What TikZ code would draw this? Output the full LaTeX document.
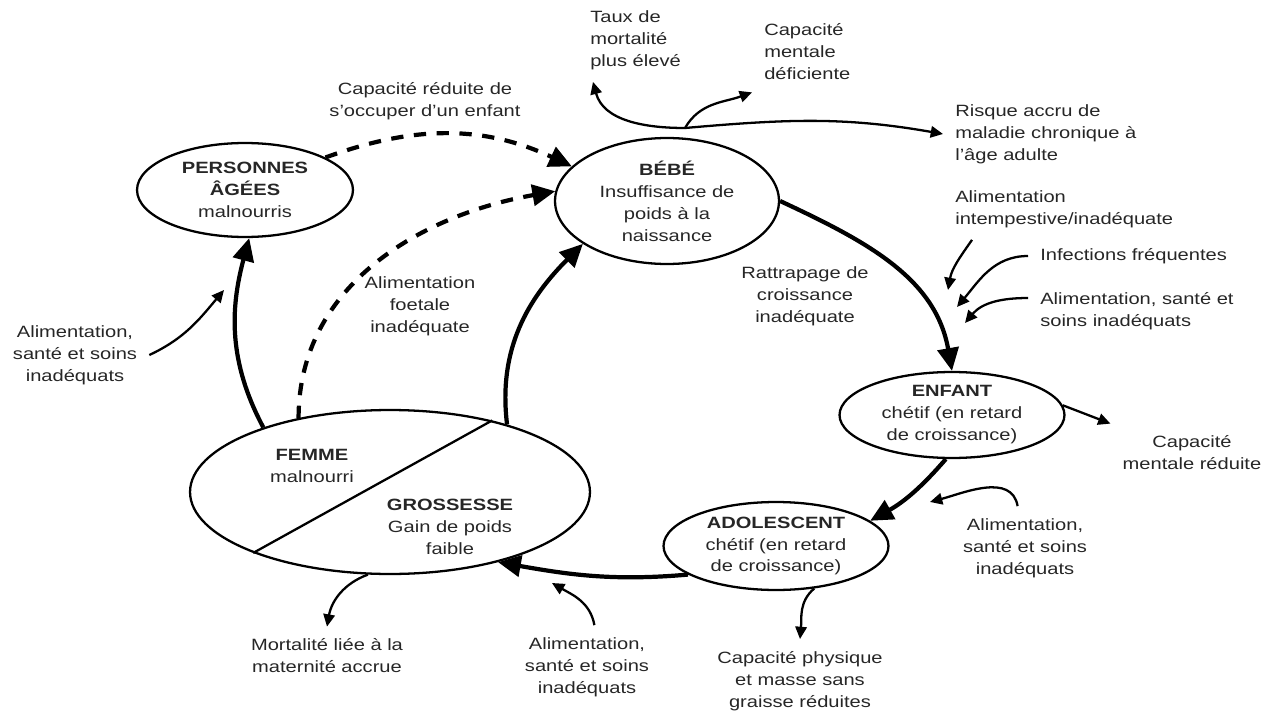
\documentclass[tikz,border=0pt]{standalone}
\usepackage{fontspec}
\setmainfont{Liberation Sans}[FakeStretch=1.23]
\usetikzlibrary{arrows.meta,shapes.geometric}

\begin{document}
\begin{tikzpicture}[x=0.02cm, y=0.02cm,
  every node/.style={font=\fontsize{9.3}{12.5}\selectfont, text=black!85},
  oval/.style={draw, ellipse, line width=1.3pt, inner sep=0pt, align=center},
  lbl/.style={align=center, inner sep=2pt, outer sep=5pt},
  lbll/.style={align=left, anchor=west, inner sep=2pt, outer sep=5pt},
  bigarrow/.style={line width=2.4pt, -{Triangle[length=13pt,width=12pt]}},
  dasharrow/.style={bigarrow, dash pattern=on 7pt off 6pt},
  smallarrow/.style={line width=1.3pt, -{Triangle[length=7pt,width=6.5pt]}}]
  \useasboundingbox (0,0) rectangle (1271,-713);

  \node[oval, minimum width=4.32cm, minimum height=1.88cm] (agees) at (245,-190) {\textbf{PERSONNES}\\\textbf{ÂGÉES}\\malnourris};
  \node[oval, minimum width=4.48cm, minimum height=2.52cm] (bebe) at (667,-201) {\textbf{BÉBÉ}\\Insuffisance de\\poids à la\\naissance};
  \node[oval, minimum width=4.5cm, minimum height=1.72cm] (enfant) at (952,-415) {\textbf{ENFANT}\\chétif (en retard\\de croissance)};
  \node[oval, minimum width=4.5cm, minimum height=1.76cm] (adol) at (776,-546) {\textbf{ADOLESCENT}\\chétif (en retard\\de croissance)};
  \node[oval, minimum width=8cm, minimum height=3.28cm] (femme) at (390,-492) {};
  \draw[line width=1.3pt] (femme.204) -- (femme.35);
  \node[align=center, inner sep=0pt] (femmetxt) at (312,-466) {\textbf{FEMME}\\malnourri};
  \node[align=center, inner sep=0pt] (grosstxt) at (450,-527) {\textbf{GROSSESSE}\\Gain de poids\\faible};

  \node[lbll] (taux) at (578,-40) {Taux de\\mortalité\\plus élevé};
  \node[lbll] (deficiente) at (752,-52) {Capacité\\mentale\\déficiente};
  \node[lbll] (risque) at (943,-134) {Risque accru de\\maladie chronique à\\l'âge adulte};
  \node[lbl] (capred) at (425,-101) {Capacité réduite de\\s'occuper d'un enfant};
  \node[lbll] (intemp) at (943,-209) {Alimentation\\intempestive/inadéquate};
  \node[lbll] (infect) at (1028,-256) {Infections fréquentes};
  \node[lbll] (alimdroite) at (1028,-311) {Alimentation, santé et\\soins inadéquats};
  \node[lbl] (rattrapage) at (805,-296) {Rattrapage de\\croissance\\inadéquate};
  \node[lbl] (mentalred) at (1192,-453) {Capacité\\mentale réduite};
  \node[lbl] (alimado) at (1025,-548) {Alimentation,\\santé et soins\\inadéquats};
  \node[lbl] (physique) at (800,-681) {Capacité physique\\et masse sans\\graisse réduites};
  \node[lbl] (alimbas) at (587,-667) {Alimentation,\\santé et soins\\inadéquats};
  \node[lbl] (mortalite) at (327,-656) {Mortalité liée à la\\maternité accrue};
  \node[lbl] (foetale) at (420,-306) {Alimentation\\foetale\\inadéquate};
  \node[lbl] (alimgauche) at (75,-355) {Alimentation,\\santé et soins\\inadéquats};

  \coordinate (fork) at (685,-128);
  \coordinate (in1) at (948,-290);
  \coordinate (in2) at (957,-307);
  \coordinate (in3) at (965,-323);
  \coordinate (inado) at (930,-502);
  \coordinate (inbas) at (552,-583);
  \coordinate (ingauche) at (224,-290);

  \draw[bigarrow] (bebe.0) to[out=-25, in=100] (enfant.north);
  \draw[bigarrow] (enfant.262) to[bend left=10] (adol.15);
  \draw[bigarrow] (adol.198) to[out=185, in=-10] (femme.-33);
  \draw[bigarrow] (femme.30) to[out=97, in=225] (bebe.207);
  \draw[bigarrow] (femme.153) to[out=118, in=-105] (agees.275);
  \draw[dasharrow] (femme.141) to[out=90, in=190] (bebe.175);
  \draw[dasharrow] (agees.22) to[out=20, in=155] (bebe.160);

  \draw[smallarrow] (fork) to[out=180, in=-75] ([xshift=0.3cm]taux.south west);
  \draw[smallarrow] (fork) to[out=60, in=200] (deficiente.south west);
  \draw[smallarrow] (fork) to[out=5, in=170] (risque.west);
  \draw[smallarrow] (enfant.5) -- (mentalred.north west);
  \draw[smallarrow] (adol.-48) to[out=220, in=85] (physique.north);
  \draw[smallarrow] (femme.255) to[out=200, in=80] (mortalite.north);
  \draw[smallarrow] (alimgauche.east) to[out=25, in=230] (ingauche);
  \draw[smallarrow] (alimbas.80) to[out=100, in=-30] (inbas);
  \draw[smallarrow] (alimado.100) to[out=100, in=15] (inado);
  \draw[smallarrow] ([xshift=0.58cm]intemp.south west) to[out=-125, in=80] (in1);
  \draw[smallarrow] (infect.west) to[out=180, in=50] (in2);
  \draw[smallarrow] ([yshift=0.26cm]alimdroite.west) to[out=180, in=50] (in3);
\end{tikzpicture}
\end{document}
